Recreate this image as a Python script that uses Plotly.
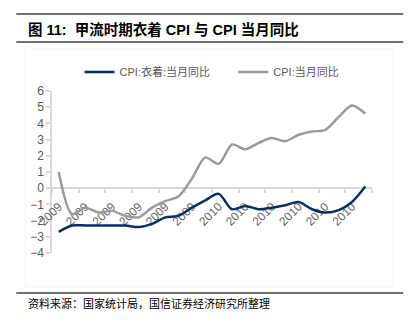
import plotly.graph_objects as go

months = ["2009-01","2009-02","2009-03","2009-04","2009-05","2009-06","2009-07","2009-08",
          "2009-09","2009-10","2009-11","2009-12","2010-01","2010-02","2010-03","2010-04",
          "2010-05","2010-06","2010-07","2010-08","2010-09","2010-10","2010-11","2010-12"]
cpi_clothing = [-2.7, -2.3, -2.3, -2.3, -2.3, -2.3, -2.4, -2.2, -1.8, -1.7, -1.2, -0.75,
                -0.35, -1.3, -1.1, -1.3, -1.2, -1.05, -0.85, -1.3, -1.5, -1.35, -0.85, 0.1]
cpi_total = [1.0, -1.6, -1.2, -1.5, -1.4, -1.7, -1.8, -1.2, -0.8, -0.5, 0.6, 1.9,
             1.5, 2.7, 2.4, 2.8, 3.1, 2.9, 3.3, 3.5, 3.6, 4.4, 5.1, 4.6]
tick_labels = ["2009", "2009", "2009", "2009", "2009", "2009",
               "2010", "2010", "2010", "2010", "2010", "2010"]

W, H = 419, 322
L, R, T, B = 51.7, 47.3, 91, 69
pw, ph = W - L - R, H - T - B

def px(x):
    return (x - L) / pw

def py(y):
    return (H - B - y) / ph

xs = list(range(len(months)))

fig = go.Figure()
fig.add_trace(go.Scatter(x=xs, y=cpi_clothing, mode="lines", name="CPI:衣着:当月同比      ",
                         line=dict(color="#0b2f62", width=2.5, shape="spline", smoothing=0.8)))
fig.add_trace(go.Scatter(x=xs, y=cpi_total, mode="lines", name="CPI:当月同比",
                         line=dict(color="#9a9a9a", width=2.5, shape="spline", smoothing=0.8)))

fig.update_layout(
    width=W, height=H,
    margin=dict(l=L, r=R, t=T, b=B, pad=0),
    paper_bgcolor="white", plot_bgcolor="white",
    font=dict(family="Liberation Sans, Arial, sans-serif", color="#595959", size=11),
    showlegend=True,
    legend=dict(orientation="h", x=0.5, xanchor="center", y=py(72), yanchor="middle",
                font=dict(size=11, family="Liberation Sans, Noto Sans CJK SC", color="#595959"),
                itemwidth=30, tracegroupgap=0, bgcolor="rgba(0,0,0,0)"),
    xaxis=dict(range=[-0.5, len(months) - 0.5], anchor="free", position=0.4,
               showline=True, linecolor="#d9d9d9", linewidth=1.5, layer="below traces",
               tickmode="array", tickvals=xs[::2], ticktext=tick_labels,
               tickangle=-45, ticks="", showgrid=False, zeroline=False,
               ticklabelstandoff=6,
               tickfont=dict(size=12, color="#666666"),
               minor=dict(tickmode="array", tickvals=[v - 0.5 for v in xs[::2]] + [len(months) - 0.5],
                          ticks="outside", ticklen=4, tickcolor="#d9d9d9", tickwidth=1.5, showgrid=False)),
    yaxis=dict(range=[-4, 6], dtick=1, showline=True, linecolor="#d9d9d9", linewidth=1.5,
               ticks="outside", ticklen=4, tickcolor="#d9d9d9", tickwidth=1.5, layer="below traces",
               showgrid=False, zeroline=False, tickfont=dict(size=12, color="#595959")),
)

# title and footer
line_color = "#404040"
for yy in (14, 42, 293):
    fig.add_shape(type="line", xref="paper", yref="paper", x0=px(16), x1=px(403),
                  y0=py(yy), y1=py(yy), line=dict(color=line_color, width=1.5))
fig.add_shape(type="rect", xref="paper", yref="paper", x0=px(25), x1=px(393),
              y0=py(48), y1=py(287), line=dict(color="#f4f4f4", width=1), layer="below")
fig.add_annotation(xref="paper", yref="paper", x=px(26), y=py(29), xanchor="left", yanchor="middle",
                   text="<b>图 11:  甲流时期衣着 CPI 与 CPI 当月同比</b>", showarrow=False,
                   font=dict(size=14.5, color="#000000", family="Liberation Sans, Noto Sans CJK SC"))
fig.add_annotation(xref="paper", yref="paper", x=px(26), y=py(303), xanchor="left", yanchor="middle",
                   text="资料来源：国家统计局，国信证券经济研究所整理", showarrow=False,
                   font=dict(size=11, color="#000000", family="Noto Sans CJK SC"))

fig.write_html("out.html")
